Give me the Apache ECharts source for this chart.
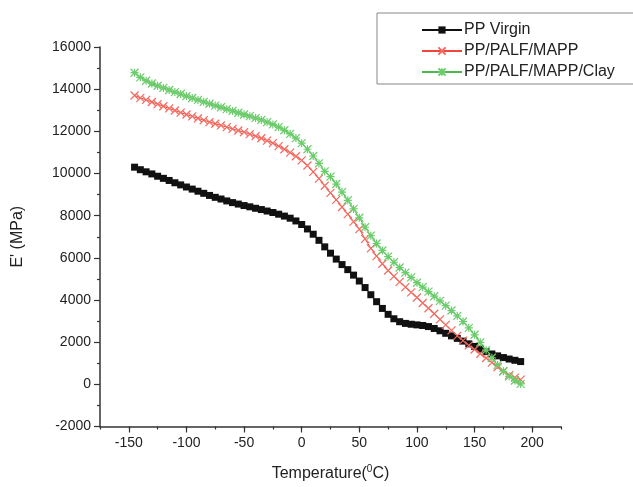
<!DOCTYPE html>
<html>
<head>
<meta charset="utf-8">
<script src="https://cdn.jsdelivr.net/npm/echarts@6/dist/echarts.min.js"></script>
<style>
html, body { margin: 0; padding: 0; background: #fff; }
#main { width: 633px; height: 487px; }
</style>
</head>
<body>
<div id="main"></div>
<script>
// temperature (°C)
var temps = [-145, -140, -135, -130, -125, -120, -115, -110, -105, -100,
    -95, -90, -85, -80, -75, -70, -65, -60, -55, -50,
    -45, -40, -35, -30, -25, -20, -15, -10, -5, 0,
    5, 10, 15, 20, 25, 30, 35, 40, 45, 50,
    55, 60, 65, 70, 75, 80, 85, 90, 95, 100,
    105, 110, 115, 120, 125, 130, 135, 140, 145, 150,
    155, 160, 165, 170, 175, 180, 185, 190];

// E' (MPa)
var ppVirgin = [10300, 10180, 10080, 9980, 9870, 9770, 9670, 9560, 9460, 9360,
    9260, 9160, 9060, 8960, 8870, 8790, 8700, 8620, 8550, 8480,
    8420, 8350, 8290, 8220, 8150, 8070, 7980, 7880, 7750, 7580,
    7370, 7120, 6830, 6520, 6220, 5940, 5680, 5440, 5180, 4900,
    4590, 4250, 3920, 3600, 3320, 3110, 2970, 2890, 2850, 2820,
    2790, 2740, 2650, 2540, 2420, 2300, 2180, 2050, 1920, 1800,
    1670, 1550, 1440, 1350, 1270, 1200, 1140, 1080];

var ppPalfMapp = [13700, 13590, 13490, 13390, 13290, 13190, 13090, 12990, 12890, 12800,
    12710, 12620, 12530, 12440, 12360, 12280, 12200, 12120, 12040, 11960,
    11870, 11770, 11670, 11560, 11440, 11300, 11150, 10990, 10820, 10620,
    10380, 10080, 9760, 9420, 9080, 8750, 8410, 8070, 7720, 7360,
    6900, 6450, 6080, 5720, 5400, 5120, 4860, 4610, 4360, 4120,
    3860, 3610, 3350, 3080, 2820, 2560, 2300, 2070, 1850, 1650,
    1450, 1250, 1030, 820, 620, 440, 320, 220];

var ppPalfMappClay = [14780, 14560, 14400, 14270, 14160, 14060, 13960, 13860, 13770, 13670,
    13580, 13490, 13400, 13310, 13220, 13140, 13050, 12970, 12880, 12800,
    12720, 12630, 12540, 12440, 12330, 12200, 12050, 11880, 11680, 11440,
    11150, 10830, 10480, 10100, 9850, 9500, 9120, 8730, 8320, 7900,
    7450, 7050, 6680, 6350, 6060, 5790, 5540, 5300, 5070, 4820,
    4610, 4400, 4180, 3960, 3730, 3500, 3250, 2980, 2680, 2350,
    1990, 1620, 1260, 920, 620, 380, 180, 20];

var xMajor = [-150, -100, -50, 0, 50, 100, 150, 200];
var seriesNames = ['PP Virgin', 'PP/PALF/MAPP', 'PP/PALF/MAPP/Clay'];

function pairs(vals) {
    var out = [];
    for (var i = 0; i < temps.length; i++) {
        out.push([temps[i], vals[i]]);
    }
    return out;
}

var myChart = echarts.init(document.getElementById('main'), null, {renderer: 'canvas'});
var txt = '#222';
var axisCol = '#333';

var option = {
    animation: false,
    backgroundColor: '#fff',
    textStyle: {fontFamily: 'Liberation Sans, Arial, sans-serif'},
    grid: {left: 100, right: 72, top: 47, bottom: 59},
    legend: {
        orient: 'vertical',
        left: 377,
        top: 13,
        padding: [9, 24, 4, 44],
        itemGap: 5,
        itemWidth: 40,
        itemHeight: 9,
        borderColor: '#888',
        borderWidth: 1,
        textStyle: {fontSize: 16, color: txt, padding: [0, 0, 0, -3]},
        data: seriesNames
    },
    xAxis: [
        {
            type: 'value',
            min: -175,
            max: 225,
            interval: 25,
            name: 'Temperature({s|0}C)',
            nameLocation: 'middle',
            nameGap: 38,
            nameTextStyle: {
                fontSize: 16, color: txt,
                rich: {s: {fontSize: 10, padding: [0, 0, 9, 0]}}
            },
            axisLine: {onZero: false, lineStyle: {color: axisCol, width: 1.5}},
            axisTick: {length: 3, lineStyle: {color: axisCol, width: 1.2}},
            axisLabel: {
                customValues: xMajor,
                margin: 10,
                fontSize: 14,
                color: txt
            },
            splitLine: {show: false}
        },
        {
            type: 'value',
            min: -175,
            max: 225,
            position: 'bottom',
            axisLine: {show: false, onZero: false},
            axisTick: {customValues: xMajor, length: 6, lineStyle: {color: axisCol, width: 1.2}},
            axisLabel: {show: false},
            splitLine: {show: false}
        }
    ],
    yAxis: {
        type: 'value',
        min: -2000,
        max: 16000,
        interval: 2000,
        name: "E' (MPa)",
        nameLocation: 'middle',
        nameGap: 74,
        nameTextStyle: {fontSize: 16, color: txt},
        axisLine: {show: true, onZero: false, lineStyle: {color: axisCol, width: 1.5}},
        axisTick: {length: 6, lineStyle: {color: axisCol, width: 1.2}},
        minorTick: {show: true, splitNumber: 2, length: 3, lineStyle: {color: axisCol, width: 1.2}},
        axisLabel: {
            margin: 9, fontSize: 14, color: txt,
            formatter: function (v) { return String(v); }
        },
        splitLine: {show: false}
    },
    series: [
        {
            name: seriesNames[0],
            type: 'line',
            xAxisIndex: 0,
            symbol: 'rect',
            symbolSize: 7,
            lineStyle: {color: '#111', width: 1},
            itemStyle: {color: '#111'},
            data: pairs(ppVirgin)
        },
        {
            name: seriesNames[1],
            type: 'line',
            xAxisIndex: 0,
            symbol: 'path://M0,0L10,10M10,0L0,10',
            symbolSize: 8,
            lineStyle: {color: '#f0463c', width: 1},
            itemStyle: {color: 'none', borderColor: '#f46a60', borderWidth: 1.2},
            data: pairs(ppPalfMapp)
        },
        {
            name: seriesNames[2],
            type: 'line',
            xAxisIndex: 0,
            symbol: 'path://M0,0L10,10M10,0L0,10M0,5L10,5M5,0L5,10',
            symbolSize: 8,
            lineStyle: {color: '#4cb84c', width: 1},
            itemStyle: {color: 'none', borderColor: '#6ccc6c', borderWidth: 1.2},
            data: pairs(ppPalfMappClay)
        }
    ]
};
myChart.setOption(option);
</script>
</body>
</html>
